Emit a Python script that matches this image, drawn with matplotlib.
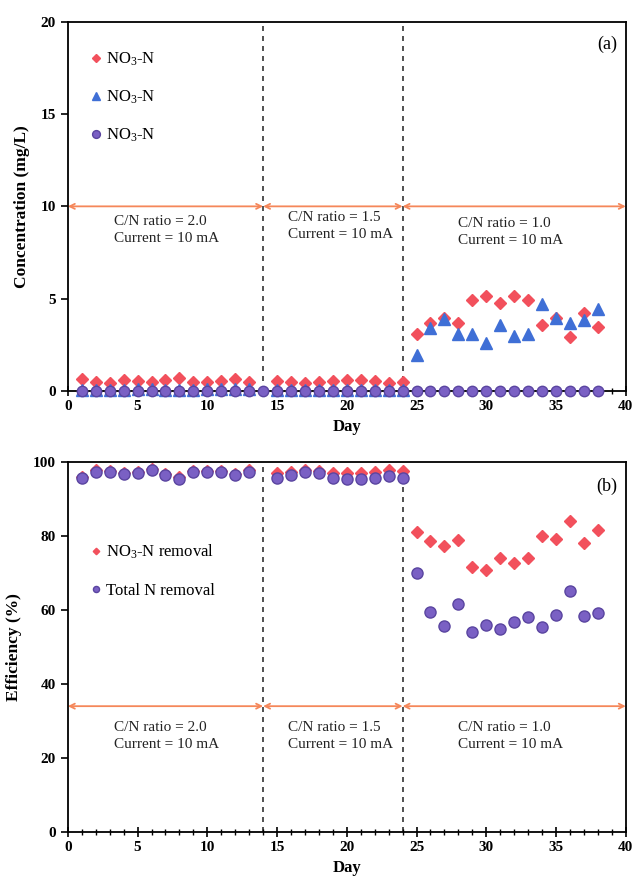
import matplotlib
matplotlib.use("Agg")
import matplotlib.pyplot as plt
from matplotlib.ticker import MultipleLocator

plt.rcParams["font.family"] = ["Liberation Serif", "DejaVu Serif"]
plt.rcParams["mathtext.fontset"] = "custom"
plt.rcParams["mathtext.rm"] = "Liberation Serif"
plt.rcParams["mathtext.it"] = "Liberation Serif:italic"
plt.rcParams["mathtext.bf"] = "Liberation Serif:bold"

# ========= 数据 =========
# (a) 浓度
days_no3_a = list(range(1, 14)) + list(range(15, 39))
no3_a = [0.65, 0.5, 0.45, 0.6, 0.54, 0.49, 0.6, 0.72, 0.47, 0.5, 0.54, 0.63, 0.5,
         0.54, 0.5, 0.41, 0.49, 0.56, 0.6, 0.6, 0.54, 0.45, 0.5,
         3.1, 3.7, 3.95, 3.7, 4.95, 5.15, 4.75, 5.15, 4.95, 3.6, 3.95, 2.95, 4.2, 3.45]

days_no2_a = list(range(1, 14)) + list(range(15, 39))
no2_a = [0.05, 0.05, 0.05, 0.05, 0.1, 0.1, 0.05, 0.05, 0.05, 0.1, 0.1, 0.1, 0.1,
         0.05, 0.05, 0.05, 0.05, 0.05, 0.05, 0.05, 0.05, 0.05, 0.05,
         1.95, 3.4, 3.9, 3.1, 3.1, 2.6, 3.55, 3.0, 3.1, 4.7, 3.95, 3.7, 3.85, 4.45]

days_nh4_a = list(range(1, 39))
nh4_a = [0.0] * 38

# (b) 去除率
days_b = list(range(1, 14)) + list(range(15, 39))
no3_removal = [96.0, 97.7, 97.5, 97.0, 97.3, 98.0, 96.8, 95.9, 97.5, 97.5, 97.5, 96.8, 97.7,
               96.9, 97.3, 97.7, 97.5, 97.0, 97.0, 97.0, 97.2, 97.9, 97.5,
               81.2, 78.7, 77.4, 78.9, 71.7, 70.7, 74.1, 72.8, 74.1, 80.1, 79.1, 84.1, 78.0, 81.6]
tn_removal = [95.7, 97.4, 97.2, 96.7, 97.0, 97.7, 96.5, 95.5, 97.2, 97.2, 97.2, 96.5, 97.4,
              95.8, 96.4, 97.2, 97.0, 95.8, 95.5, 95.5, 95.8, 96.1, 95.7,
              70.1, 59.4, 55.8, 61.5, 54.1, 55.9, 54.8, 56.8, 58.0, 55.3, 58.6, 65.2, 58.4, 59.1]

phase_bounds = [0, 14, 24, 40]
phase_labels = ["C/N ratio = 2.0\nCurrent = 10 mA",
                "C/N ratio = 1.5\nCurrent = 10 mA",
                "C/N ratio = 1.0\nCurrent = 10 mA"]
phase_text_x = [3.3, 15.8, 28.0]

RED = "#f2505c"
BLUE = "#3f6fd6"
PURPLE = "#7a60c4"
PURPLE_EDGE = "#5a45a0"
ORANGE = "#f5875a"

fig = plt.figure(figsize=(6.34, 8.83), dpi=100)
ax1 = fig.add_axes([0.107, 0.5572, 0.88, 0.4182])
ax2 = fig.add_axes([0.107, 0.0578, 0.88, 0.419])


def style_axis(ax, ymax, ystep):
    ax.set_xlim(0, 40)
    ax.set_ylim(0, ymax)
    ax.xaxis.set_major_locator(MultipleLocator(5))
    ax.xaxis.set_minor_locator(MultipleLocator(1))
    ax.yaxis.set_major_locator(MultipleLocator(ystep))
    ax.tick_params(axis="x", which="major", direction="inout", length=7, width=1.2,
                   labelsize=11, pad=3)
    ax.tick_params(axis="x", which="minor", direction="inout", length=4, width=1.0)
    ax.tick_params(axis="y", which="major", direction="out", length=5, width=1.2,
                   labelsize=11)
    for lab in ax.get_xticklabels() + ax.get_yticklabels():
        lab.set_fontweight("bold")
    for sp in ax.spines.values():
        sp.set_linewidth(1.3)
    ax.set_xlabel("Day", fontsize=12, fontweight="bold", labelpad=4)


def phases(ax, arrow_y, text_y):
    for xb in phase_bounds[1:3]:
        ax.axvline(xb, color="#333333", lw=1.2, ls=(0, (3, 3)), zorder=1)
    for i in range(3):
        ax.annotate("", xy=(phase_bounds[i + 1], arrow_y), xytext=(phase_bounds[i], arrow_y),
                    arrowprops=dict(arrowstyle="<->", color=ORANGE, lw=1.3,
                                    shrinkA=0, shrinkB=0, mutation_scale=9), zorder=2)
        ax.text(phase_text_x[i], text_y[i], phase_labels[i], fontsize=11,
                ha="left", va="top", linespacing=1.4, color="#222222")


# ========= 图 (a) =========
style_axis(ax1, 20, 5)
phases(ax1, 10, [9.55, 9.75, 9.45])
ax1.plot(days_no3_a, no3_a, ls="none", marker="D", ms=6, color=RED, mec=RED,
         label="NO$_3$-N", zorder=4, clip_on=False)
ax1.plot(days_no2_a, no2_a, ls="none", marker="^", ms=8, color=BLUE, mec=BLUE,
         label="NO$_3$-N", zorder=4, clip_on=False)
ax1.plot(days_nh4_a, nh4_a, ls="none", marker="o", ms=7.5, color=PURPLE, mec=PURPLE_EDGE,
         label="NO$_3$-N", zorder=5, clip_on=False)
ax1.set_ylabel("Concentration (mg/L)", fontsize=12.5, fontweight="bold", labelpad=8)
ax1.text(39.4, 18.8, "(a)", fontsize=13, ha="right", va="center")
ax1.legend(loc="upper left", bbox_to_anchor=(0.03, 0.94), frameon=False, fontsize=12,
           handlelength=0.6, handletextpad=0.3, labelspacing=1.25, markerscale=0.75,
           borderaxespad=0)

# ========= 图 (b) =========
style_axis(ax2, 100, 20)
phases(ax2, 34, [30.0, 30.0, 30.0])
ax2.plot(days_b, no3_removal, ls="none", marker="D", ms=6, color=RED, mec=RED,
         label="NO$_3$-N removal", zorder=4)
ax2.plot(days_b, tn_removal, ls="none", marker="o", ms=8, color=PURPLE, mec=PURPLE_EDGE,
         label="Total N removal", zorder=5)
ax2.set_ylabel("Efficiency (%)", fontsize=12.5, fontweight="bold", labelpad=8)
ax2.text(39.4, 93.5, "(b)", fontsize=13, ha="right", va="center")
ax2.legend(loc="upper left", bbox_to_anchor=(0.03, 0.80), frameon=False, fontsize=12,
           handlelength=0.6, handletextpad=0.3, labelspacing=1.3, markerscale=0.55,
           borderaxespad=0)

fig.savefig("out.png", dpi=100)
plt.close(fig)
